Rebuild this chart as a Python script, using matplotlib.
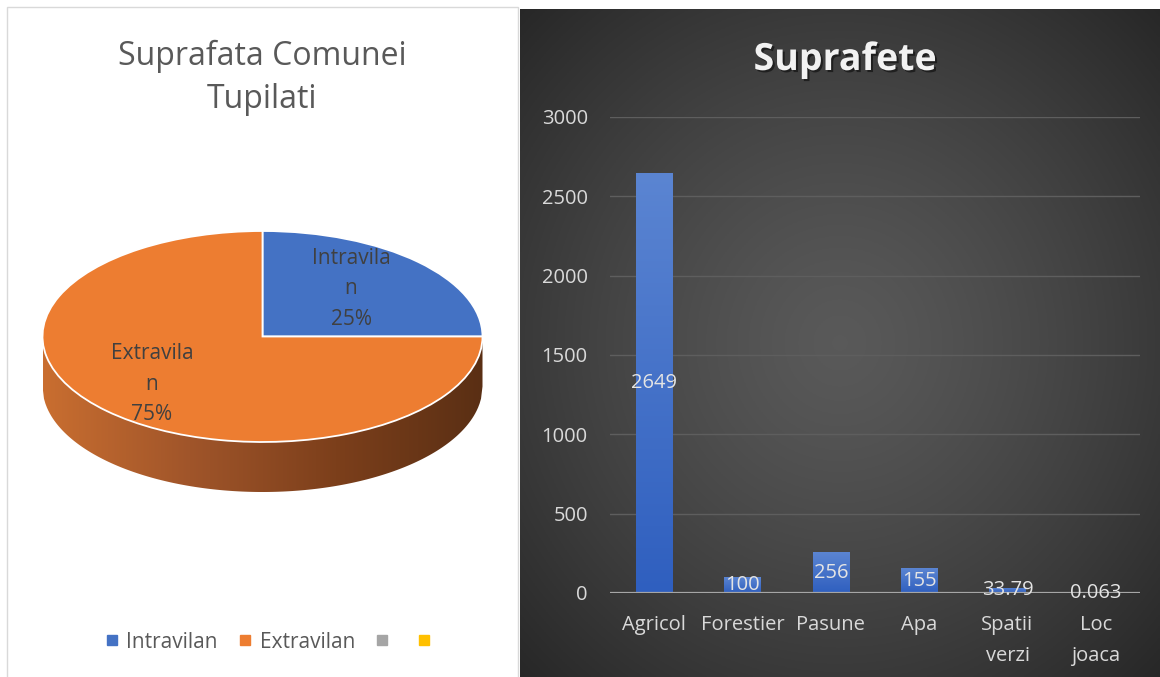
import textwrap
import numpy as np
import matplotlib
matplotlib.use("Agg")
import matplotlib.pyplot as plt
from matplotlib.patches import Rectangle, Polygon
from matplotlib.lines import Line2D
from matplotlib.colors import LinearSegmentedColormap
import matplotlib.patheffects as pe

plt.rcParams['font.family'] = ['Open Sans', 'DejaVu Sans']

# Pie data (Suprafata Comunei Tupilati)
pie_labels = ["Intravilan", "Extravilan", "", ""]
pie_values = [25, 75, 0, 0]
pie_colors = ["#4472c4", "#ed7d31", "#a5a5a5", "#ffc000"]

# Bar data (Suprafete)
bar_labels = ["Agricol", "Forestier", "Pasune", "Apa", "Spatii\nverzi", "Loc\njoaca"]
bar_values = [2649, 100, 256, 155, 33.79, 0.063]
y_ticks = [0, 500, 1000, 1500, 2000, 2500, 3000]

W, H = 1160, 677


def box(x0, y0, x1, y1):
    # pixel box (top-left origin) -> figure fraction rect
    return [x0 / W, 1 - y1 / H, (x1 - x0) / W, (y1 - y0) / H]


fig = plt.figure(figsize=(W / 100, H / 100), dpi=100)
fig.patch.set_facecolor("white")

# left panel frame (behind everything)
fig.patches.append(Rectangle((7 / W, -0.01), (518 - 7) / W, 1.01 - 7 / H,
                             transform=fig.transFigure, fc="white",
                             ec="#d9d9d9", lw=1, zorder=-5))

# ---- right panel: dark radial background ----
axbg = fig.add_axes(box(520, 9, 1160, 677))
axbg.set_zorder(-2)
yy, xx = np.mgrid[0:1:300j, 0:1:300j]
r = np.clip(np.hypot((xx - 0.5) / 0.72, (yy - 0.5) / 0.72), 0, 1)
v = 0.35 - (0.35 - 0.15) * r ** 1.3
axbg.imshow(np.dstack([v, v, v]), extent=(0, 1, 0, 1), aspect="auto")
axbg.axis("off")

ax = fig.add_axes(box(610, 117, 1140, 593))
ax.set_facecolor("none")
x = np.arange(len(bar_values))
bars = ax.bar(x, bar_values, width=0.41, color="#3f6dca", zorder=2)
bar_cmap = LinearSegmentedColormap.from_list("bar", ["#2f5fbf", "#5b85d2"])
for rect in bars:
    x0, w, h = rect.get_x(), rect.get_width(), rect.get_height()
    im = ax.imshow(np.linspace(0, 1, 256).reshape(-1, 1), extent=(x0, x0 + w, 0, h),
                   origin="lower", cmap=bar_cmap, aspect="auto", zorder=2.1)
    im.set_clip_path(rect)

for xi, val in zip(x, bar_values):
    ax.text(xi, val / 2, f"{val:g}", ha="center", va="center",
            color="#e4e4e4", fontsize=14.5, zorder=5)

ax.axhline(0, color="#a6a6a6", lw=1.6, zorder=4)
ax.set_xlim(-0.5, len(bar_values) - 0.5)
ax.set_ylim(0, 3000)
ax.set_yticks(y_ticks)
ax.set_xticks(x)
ax.set_xticklabels(bar_labels)
ax.yaxis.grid(True, color="#5e5e5e", lw=1)
ax.set_axisbelow(True)
for s in ax.spines.values():
    s.set_visible(False)
ax.tick_params(axis="y", length=0, pad=16, labelsize=14.5, labelcolor="#d9d9d9")
ax.tick_params(axis="x", length=0, pad=16, labelsize=14.5, labelcolor="#d9d9d9")
for lab in ax.get_xticklabels():
    lab.set_linespacing(1.75)

fig.text(845 / W, 1 - 60 / H, "Suprafete", ha="center", va="center",
         fontsize=27, fontweight="bold", color="#f2f2f2",
         path_effects=[pe.withSimplePatchShadow(offset=(1.5, -1.5),
                                                shadow_rgbFace="black", alpha=0.5)])

# ---- left panel: 3D-looking pie ----
depth = 50 / 105.5
axp = fig.add_axes(box(42.5, 231, 482.5, 492))
vals = [val for val in pie_values if val > 0]
cols = [c for c, val in zip(pie_colors, pie_values) if val > 0]
names = [n for n, val in zip(pie_labels, pie_values) if val > 0]
wedges, _ = axp.pie(vals, colors=cols, startangle=90, counterclock=False,
                    wedgeprops=dict(edgecolor="white", linewidth=1.3))

# side of the pie
xs = np.linspace(-1, 1, 300)
top = -np.sqrt(1 - xs ** 2)
verts = list(zip(xs, top)) + list(zip(xs[::-1], top[::-1] - depth))
side = Polygon(verts, closed=True, fc="none", ec="none")
axp.add_patch(side)
side_cmap = LinearSegmentedColormap.from_list(
    "side", ["#c96e30", "#a0552a", "#7c3f1b", "#5a2f14"])
im = axp.imshow(np.linspace(0, 1, 256).reshape(1, -1), extent=(-1, 1, -1 - depth, 0),
                cmap=side_cmap, aspect="auto", zorder=0.5)
im.set_clip_path(side)

total = sum(pie_values)
for wdg, name, val in zip(wedges, names, vals):
    mid = np.deg2rad((wdg.theta1 + wdg.theta2) / 2)
    txt = "\n".join(textwrap.wrap(name, 9)) + f"\n{val / total * 100:.0f}%"
    axp.text(0.64 * np.cos(mid) - 0.05, 0.64 * np.sin(mid), txt, ha="center", va="center",
             fontsize=15, color="#404040", linespacing=1.6, zorder=5)

axp.set_aspect("auto")
axp.set_xlim(-1, 1)
axp.set_ylim(-1 - depth, 1)
axp.axis("off")

fig.text(262 / W, 1 - 78 / H, "Suprafata Comunei\nTupilati", ha="center", va="center",
         fontsize=23, color="#595959", linespacing=1.4)

handles = [Line2D([], [], marker="s", ls="", color=c, markersize=7) for c in pie_colors]
fig.legend(handles, pie_labels, loc="center", bbox_to_anchor=(272 / W, 1 - 642 / H),
           ncol=4, frameon=False, fontsize=15, labelcolor="#595959",
           handlelength=0.6, handletextpad=0.4, columnspacing=1.0)

fig.savefig("out.png", dpi=100)
